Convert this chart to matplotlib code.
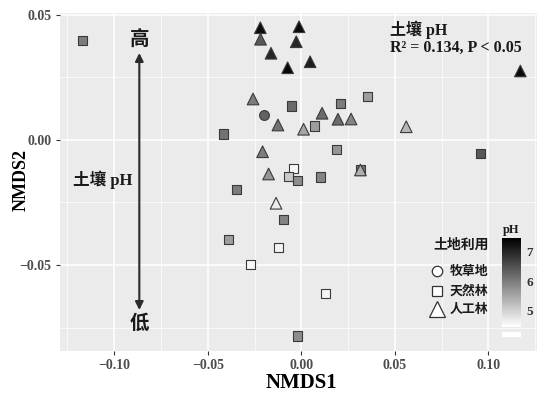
import numpy as np
import matplotlib.pyplot as plt
from matplotlib.colors import LinearSegmentedColormap, Normalize
from matplotlib.lines import Line2D
from matplotlib.patches import Rectangle

# NMDS scores, grouped by land use
# 人工林 (plantation) - triangles
tri_x = [-0.0219, -0.0012, -0.0218, -0.0027, -0.0162, -0.0073, 0.0047, 0.1171,
         -0.0258, -0.0125, 0.0012, 0.0111, 0.0196, 0.0266, -0.0207, -0.0175,
         0.0316, -0.0135, 0.0561]
tri_y = [0.0449, 0.0453, 0.0403, 0.0393, 0.0347, 0.0289, 0.0313, 0.0276,
         0.0164, 0.0060, 0.0043, 0.0107, 0.0083, 0.0084, -0.0047, -0.0136,
         -0.0120, -0.0253, 0.0053]
tri_ph = [7.3, 7.3, 6.4, 7.0, 7.0, 7.35, 7.1, 7.3,
          6.0, 6.1, 5.5, 6.2, 6.2, 5.9, 6.0, 5.7,
          5.4, 4.7, 5.3]

# 天然林 (natural forest) - squares
sq_x = [-0.1170, -0.0050, 0.0212, 0.0355, 0.0070, -0.0416, 0.0186, -0.0044,
        -0.0066, -0.0020, 0.0102, 0.0316, -0.0348, -0.0095, -0.0389, -0.0121,
        -0.0273, 0.0130, -0.0023, 0.0957]
sq_y = [0.0397, 0.0136, 0.0147, 0.0175, 0.0056, 0.0024, -0.0039, -0.0113,
        -0.0147, -0.0163, -0.0148, -0.0120, -0.0199, -0.0317, -0.0397, -0.0431,
        -0.0497, -0.0613, -0.0784, -0.0053]
sq_ph = [6.0, 6.2, 6.0, 5.6, 5.6, 6.1, 5.7, 4.55,
         5.1, 5.8, 5.9, 6.1, 6.0, 5.9, 5.6, 4.6,
         4.55, 4.6, 5.8, 6.4]

# 牧草地 (pasture) - circle
ci_x = [-0.0198]
ci_y = [0.0099]
ci_ph = [6.3]

W, H = 539, 394
fig = plt.figure(figsize=(W / 100, H / 100), dpi=100)
ax = fig.add_axes([60 / W, 1 - 351 / H, 477 / W, 338 / H])
ax.set_facecolor('#EBEBEB')

cmap = LinearSegmentedColormap.from_list('ph', ['white', 'black'])
norm = Normalize(vmin=4.46, vmax=7.45)
edge = '#3a3a3a'

ax.scatter(sq_x, sq_y, c=sq_ph, cmap=cmap, norm=norm, marker='s', s=42,
           edgecolors=edge, linewidths=0.8, zorder=3)
ax.scatter(ci_x, ci_y, c=ci_ph, cmap=cmap, norm=norm, marker='o', s=50,
           edgecolors=edge, linewidths=0.8, zorder=3)
ax.scatter(tri_x, tri_y, c=tri_ph, cmap=cmap, norm=norm, marker='^', s=70,
           edgecolors=edge, linewidths=0.8, zorder=4)

ax.set_xlim(-0.129, 0.126)
ax.set_ylim(-0.0844, 0.0508)
ax.set_xticks([-0.10, -0.05, 0.00, 0.05, 0.10])
ax.set_xticklabels(['\u22120.10', '\u22120.05', '0.00', '0.05', '0.10'])
ax.set_yticks([-0.05, 0.00, 0.05])
ax.set_yticklabels(['\u22120.05', '0.00', '0.05'])
ax.set_xticks([-0.125, -0.075, -0.025, 0.025, 0.075, 0.125], minor=True)
ax.set_yticks([-0.075, -0.025, 0.025], minor=True)
ax.grid(which='major', color='white', lw=1.1)
ax.grid(which='minor', color='white', lw=0.5)
ax.set_axisbelow(True)
for s in ax.spines.values():
    s.set_visible(False)
ax.tick_params(which='major', length=3, color='#333333', labelsize=10,
               labelcolor='#4D4D4D', pad=3)
ax.tick_params(which='minor', length=0)
for lab in ax.get_xticklabels() + ax.get_yticklabels():
    lab.set_fontfamily('Liberation Serif')
    lab.set_fontweight('bold')

fig.text(301 / W, 1 - 383 / H, 'NMDS1', ha='center', va='center',
         fontsize=15, fontweight='bold', family='Liberation Serif')
fig.text(21 / W, 1 - 180 / H, 'NMDS2', ha='center', va='center', rotation=90,
         fontsize=13, fontweight='bold', family='Liberation Serif')

mix = ['Liberation Serif', 'Noto Sans CJK SC']
cjk = ['Noto Sans CJK SC', 'DejaVu Sans']

# pH arrow annotation
ax.annotate('', xy=(-0.0866, 0.0348), xytext=(-0.0866, -0.068),
            arrowprops=dict(arrowstyle='<|-|>', color='#2b2b2b', lw=1.5,
                            mutation_scale=12, shrinkA=0, shrinkB=0))
ax.text(-0.0866, 0.0400, '高', ha='center', va='center', fontsize=14,
        fontweight='bold', family=cjk, color='#1a1a1a')
ax.text(-0.0866, -0.0732, '低', ha='center', va='center', fontsize=14,
        fontweight='bold', family=cjk, color='#1a1a1a')
ax.text(-0.106, -0.016, '土壤 pH', ha='center', va='center', fontsize=12,
        fontweight='bold', family=mix, color='#1a1a1a')

fig.text(390 / W, 1 - 30 / H, '土壤 pH', ha='left', va='center', fontsize=11.5,
         fontweight='bold', family=mix, color='#1a1a1a')
fig.text(390 / W, 1 - 48 / H, 'R\u00b2 = 0.134, P < 0.05', ha='left',
         va='center', fontsize=11.5, fontweight='bold', family=mix,
         color='#1a1a1a')

# legend for land use
fig.text(461 / W, 1 - 245 / H, '土地利用', ha='center', va='center',
         fontsize=10, fontweight='bold', family=cjk, color='#1a1a1a')
leg_labels = ['牧草地', '天然林', '人工林']
leg_markers = ['o', 's', '^']
leg_sizes = [7.5, 7.2, 11]
leg_y = [270.7, 290.7, 309.3]
for lab, mk, ms, yy in zip(leg_labels, leg_markers, leg_sizes, leg_y):
    fig.add_artist(Line2D([437.3 / W], [1 - yy / H], marker=mk, ms=ms,
                          mfc='white', mec='#333333', mew=0.9, ls='none',
                          transform=fig.transFigure))
    fig.text(449.3 / W, 1 - yy / H, lab, ha='left', va='center', fontsize=9.3,
             fontweight='bold', family=cjk, color='#1a1a1a')

# colour bar for pH
cax = fig.add_axes([501.7 / W, 1 - 326.7 / H, 19 / W, 88.4 / H])
cb = fig.colorbar(plt.cm.ScalarMappable(norm=norm, cmap=cmap), cax=cax,
                  ticks=[5, 6, 7])
cb.outline.set_visible(False)
cax.tick_params(length=0, labelsize=9.5, pad=4, labelcolor='#333333')
for lab in cax.get_yticklabels():
    lab.set_fontfamily('Liberation Serif')
    lab.set_fontweight('bold')
fig.text(511 / W, 1 - 230 / H, 'pH', ha='center', va='center', fontsize=9,
         fontweight='bold', family='Liberation Serif', color='#1a1a1a')
fig.add_artist(Rectangle((501.7 / W, 1 - 336.7 / H), 19 / W, 5 / H,
                         facecolor='white', edgecolor='none',
                         transform=fig.transFigure))

fig.savefig('out.png', dpi=100)
